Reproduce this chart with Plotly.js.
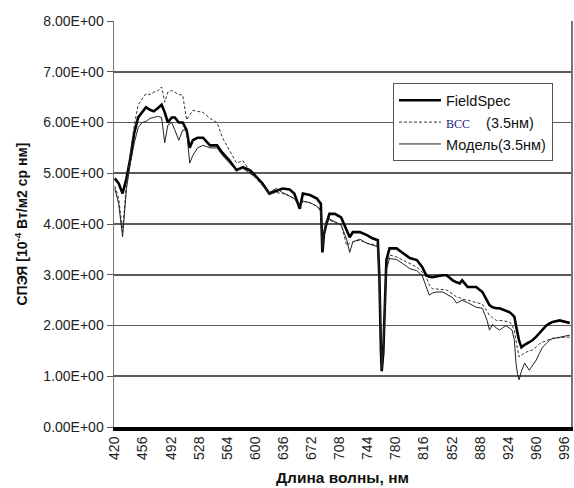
<!DOCTYPE html>
<html><head><meta charset="utf-8">
<script src="https://cdn.plot.ly/plotly-3.0.1.min.js"></script>
<style>html,body{margin:0;padding:0;background:#fff}#chart{width:574px;height:488px}</style>
</head><body><div id="chart"></div>
<script>
const wavelength = [420,425,430,435,440,445,450,455,460,465,470,475,480,484,488,493,497,502,507,512,516,520,526,533,542,551,558,567,576,584,593,602,609,618,627,635,644,650,657,661,670,679,684,686,688,691,695,702,710,717,721,725,734,743,750,757,759,761,762,764,766,768,772,781,789,798,807,814,819,823,827,832,840,845,853,858,862,865,872,878,883,891,897,900,904,909,913,921,926,929,932,934,936,938,941,945,951,955,960,964,968,973,977,981,990,995,999,1003];
const fieldSpec = [4.9,4.8,4.6,4.9,5.3,5.8,6.1,6.2,6.3,6.25,6.22,6.28,6.35,6.2,6.0,6.1,6.1,6.0,6.0,5.85,5.5,5.65,5.7,5.7,5.55,5.55,5.4,5.25,5.06,5.12,5.06,4.92,4.8,4.6,4.65,4.7,4.68,4.6,4.3,4.6,4.57,4.5,4.4,3.44,3.8,4.0,4.2,4.2,4.13,3.9,3.74,3.84,3.84,3.78,3.72,3.68,2.95,1.5,1.1,1.46,2.5,3.29,3.52,3.52,3.43,3.33,3.29,3.15,2.99,2.96,2.95,2.97,2.99,2.99,2.89,2.85,2.83,2.89,2.76,2.76,2.76,2.66,2.5,2.4,2.36,2.34,2.34,2.3,2.26,2.22,2.17,2.0,1.85,1.7,1.57,1.62,1.67,1.71,1.78,1.85,1.92,2.0,2.04,2.07,2.1,2.08,2.07,2.05];
const vss = [4.75,4.5,3.85,4.8,5.4,5.95,6.35,6.45,6.57,6.55,6.6,6.62,6.7,6.4,6.6,6.63,6.6,6.55,6.54,6.05,6.15,6.24,6.22,6.2,6.08,6.0,5.7,5.45,5.2,5.25,5.05,4.88,4.75,4.6,4.62,4.6,4.55,4.5,4.35,4.45,4.42,4.35,4.27,3.52,3.85,4.07,4.08,4.02,4.0,3.58,3.62,3.65,3.68,3.62,3.6,3.58,2.9,1.6,1.2,1.55,2.4,3.15,3.39,3.35,3.29,3.22,3.15,3.05,2.95,2.8,2.72,2.72,2.7,2.7,2.62,2.56,2.55,2.52,2.5,2.47,2.45,2.42,2.28,2.2,2.15,2.1,2.1,2.08,2.07,2.0,1.91,1.7,1.5,1.38,1.42,1.46,1.5,1.52,1.58,1.64,1.67,1.7,1.73,1.75,1.76,1.77,1.77,1.77];
const model = [4.7,4.4,3.75,4.7,5.2,5.6,5.9,6.0,6.02,6.08,6.1,6.12,6.1,5.6,5.95,6.0,5.85,5.65,5.85,5.85,5.2,5.35,5.5,5.55,5.5,5.5,5.35,5.2,5.05,5.1,5.0,4.9,4.78,4.62,4.7,4.62,4.55,4.5,4.35,4.45,4.42,4.35,4.25,3.55,3.8,4.0,4.1,4.05,3.98,3.7,3.44,3.65,3.7,3.62,3.58,3.55,2.9,1.6,1.15,1.5,2.4,3.1,3.32,3.3,3.22,3.12,3.08,2.98,2.76,2.6,2.64,2.66,2.66,2.62,2.55,2.44,2.48,2.5,2.45,2.4,2.36,2.34,2.1,1.91,2.02,1.95,1.91,2.0,1.95,1.91,1.7,1.26,1.05,0.93,1.1,1.26,1.12,1.2,1.32,1.45,1.57,1.65,1.71,1.74,1.77,1.79,1.8,1.81];
const xTicks = [420,456,492,528,564,600,636,672,708,744,780,816,852,888,924,960,996];
const yTicks = [0,1,2,3,4,5,6,7,8];
const yTickText = ["0.00E+00","1.00E+00","2.00E+00","3.00E+00","4.00E+00","5.00E+00","6.00E+00","7.00E+00","8.00E+00"];

const traces = [
  {x: wavelength, y: fieldSpec, name: "FieldSpec", type: "scatter", mode: "lines", legendgroup: "a",
   line: {color: "#000", width: 2.6}},
  {x: wavelength, y: vss, name: '<span style="font-family:\'Liberation Serif\';font-size:12px;fill:#1a237e">ВСС</span>    (3.5нм)', type: "scatter", mode: "lines", legendgroup: "b",
   line: {color: "#333", width: 1, dash: "3px,2px"}},
  {x: wavelength, y: model, name: "Модель(3.5нм)", type: "scatter", mode: "lines", legendgroup: "c",
   line: {color: "#222", width: 1}}
];
const layout = {
  width: 574, height: 488,
  margin: {l: 114, r: 3, t: 21, b: 61},
  paper_bgcolor: "#fff", plot_bgcolor: "#fff",
  font: {family: "Liberation Sans, Arial, sans-serif", size: 14, color: "#222"},
  showlegend: true,
  legend: {x: 0.61, y: 0.847, xanchor: "left", yanchor: "top", bgcolor: "#fff",
    bordercolor: "#555", borderwidth: 1.2, font: {size: 14.5, color: "#111"},
    itemwidth: 42, tracegroupgap: 7, traceorder: "normal"},
  xaxis: {range: [419, 1004.5], tickvals: xTicks, ticktext: xTicks.map(String), tickangle: -90,
    showgrid: false, zeroline: false, showline: true, linecolor: "#000", linewidth: 4,
    ticks: "", tickfont: {size: 14, color: "#222"},
    title: {text: "<b>Длина волны, нм</b>", font: {size: 15.5, color: "#111"}, standoff: 14}},
  yaxis: {range: [0, 8], tickvals: yTicks, ticktext: yTickText, showgrid: true,
    gridcolor: "#5a5a5a", gridwidth: 1.6, zeroline: false, showline: true, linecolor: "#777",
    linewidth: 1.5, mirror: true, ticks: "outside", ticklen: 6, tickcolor: "#555",
    tickfont: {size: 14, color: "#222"},
    title: {text: "<b>СПЭЯ [10<sup>-4</sup> Вт/м2 ср нм]</b>", font: {size: 14, color: "#111"}, standoff: 12}}
};
Plotly.newPlot("chart", traces, layout, {displayModeBar: false, staticPlot: true});
</script></body></html>
